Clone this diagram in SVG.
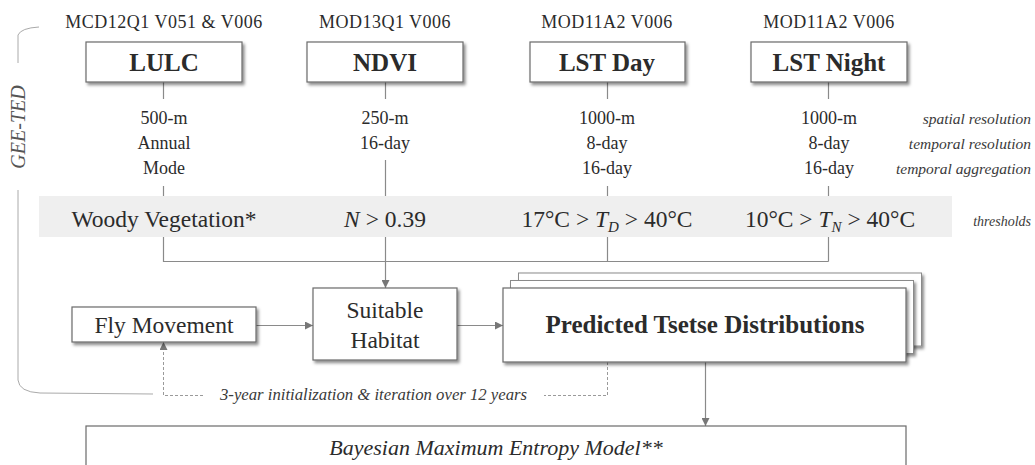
<svg xmlns="http://www.w3.org/2000/svg" width="1035" height="465" viewBox="0 0 1035 465" font-family="'Liberation Serif', 'Times New Roman', 'DejaVu Serif', serif">
<style>
text{font-family:'Liberation Serif','Times New Roman','DejaVu Serif',serif;fill:#2b2b2b}
.src{font-size:18px;letter-spacing:0.5px;text-anchor:middle}
.ttl{font-size:25px;font-weight:bold;text-anchor:middle}
.spec{font-size:18px;text-anchor:middle}
.lab{font-size:15.5px;font-style:italic;text-anchor:end;fill:#3a3a3a}
.thr{font-size:23.5px;text-anchor:middle}
.reg{font-size:23.5px;text-anchor:middle}
.box{fill:#fff;stroke:#6a6a6a;stroke-width:1.2}
.sbox{fill:#fff;stroke:#8a8a8a;stroke-width:1}
.ln{fill:none;stroke:#8a8a8a;stroke-width:1.2}
.dash{fill:none;stroke:#9a9a9a;stroke-width:1;stroke-dasharray:3 2}
.brk{fill:none;stroke:#aaaaaa;stroke-width:1}
</style>
<defs>
<filter id="sh" x="-10%" y="-20%" width="125%" height="150%">
<feDropShadow dx="2" dy="2.5" stdDeviation="1.6" flood-color="#000" flood-opacity="0.45"/>
</filter>
<marker id="ah" viewBox="0 0 10 10" refX="10" refY="5" markerWidth="9" markerHeight="8" markerUnits="userSpaceOnUse" orient="auto">
<path d="M0,0 L10,5 L0,10 z" fill="#777"/>
</marker>
</defs>
<rect width="1035" height="465" fill="#fff"/>

<g id="gee-ted">
<path class="brk" d="M39,27 Q21,28 18,35 V63"/>
<path class="brk" d="M18,190 V380 Q19,392 40,393 L153,394"/>
<text transform="translate(25,127) rotate(-90)" style="font-size:20px;font-style:italic;text-anchor:middle;fill:#555">GEE-TED</text>
</g>

<g id="threshold-band">
<rect x="39" y="196" width="913" height="41" fill="#efefef"/>
</g>

<g id="connectors">
<path class="ln" d="M163.5,82 V99 M163.5,186 V196 M163.5,237 V261.5 H828.5"/>
<path class="ln" d="M385.5,82 V99 M385.5,160 V196"/>
<path class="ln" d="M385.5,237 V288" marker-end="url(#ah)"/>
<path class="ln" d="M607.5,82 V99 M607.5,186 V196 M607.5,237 V261.5"/>
<path class="ln" d="M828.5,82 V99 M828.5,186 V196 M828.5,237 V261.5"/>
<path class="ln" d="M256,325.5 H313" marker-end="url(#ah)"/>
<path class="ln" d="M457,325.5 H503" marker-end="url(#ah)"/>
<path class="ln" d="M705.5,362 V426" marker-end="url(#ah)"/>
<path class="dash" d="M607.5,362 V395.5 H544"/>
<path class="dash" d="M203,395.5 H163.5 V342" marker-end="url(#ah)"/>
</g>

<g id="lulc">
<text class="src" x="164" y="28">MCD12Q1 V051 &amp; V006</text>
<rect class="box" x="86" y="42" width="156" height="40" filter="url(#sh)"/>
<text class="ttl" x="164" y="71">LULC</text>
<text class="spec" x="164" y="124">500-m</text>
<text class="spec" x="164" y="149">Annual</text>
<text class="spec" x="164" y="174">Mode</text>
<text class="thr" x="164" y="227">Woody Vegetation*</text>
</g>

<g id="ndvi">
<text class="src" x="385" y="28">MOD13Q1 V006</text>
<rect class="box" x="307" y="42" width="156" height="40" filter="url(#sh)"/>
<text class="ttl" x="385" y="71">NDVI</text>
<text class="spec" x="385" y="124">250-m</text>
<text class="spec" x="385" y="149">16-day</text>
<text class="thr" x="385" y="227"><tspan font-style="italic">N</tspan> &gt; 0.39</text>
</g>

<g id="lst-day">
<text class="src" x="607" y="28">MOD11A2 V006</text>
<rect class="box" x="530" y="42" width="155" height="40" filter="url(#sh)"/>
<text class="ttl" x="607" y="71">LST Day</text>
<text class="spec" x="607" y="124">1000-m</text>
<text class="spec" x="607" y="149">8-day</text>
<text class="spec" x="607" y="174">16-day</text>
<text class="thr" x="607" y="227">17°C &gt; <tspan font-style="italic">T</tspan><tspan font-style="italic" font-size="15" dy="5">D</tspan><tspan dy="-5"> &gt; 40°C</tspan></text>
</g>

<g id="lst-night">
<text class="src" x="829" y="28">MOD11A2 V006</text>
<rect class="box" x="751" y="42" width="156" height="40" filter="url(#sh)"/>
<text class="ttl" x="829" y="71">LST Night</text>
<text class="spec" x="829" y="124">1000-m</text>
<text class="spec" x="829" y="149">8-day</text>
<text class="spec" x="829" y="174">16-day</text>
<text class="thr" x="830" y="227">10°C &gt; <tspan font-style="italic">T</tspan><tspan font-style="italic" font-size="15" dy="5">N</tspan><tspan dy="-5"> &gt; 40°C</tspan></text>
</g>

<g id="row-labels">
<text class="lab" x="1031" y="124">spatial resolution</text>
<text class="lab" x="1031" y="149">temporal resolution</text>
<text class="lab" x="1031" y="174">temporal aggregation</text>
<text class="lab" x="1031" y="226" style="font-size:14px">thresholds</text>
</g>

<g id="fly-movement">
<rect class="box" x="72" y="307" width="184" height="35" filter="url(#sh)"/>
<text class="reg" x="164" y="333">Fly Movement</text>
</g>

<g id="suitable-habitat">
<rect class="box" x="313" y="288" width="144" height="72" filter="url(#sh)"/>
<text class="reg" x="385" y="318">Suitable</text>
<text class="reg" x="385" y="348">Habitat</text>
</g>

<g id="predicted">
<rect class="sbox" x="518.5" y="273" width="403" height="73" filter="url(#sh)"/>
<rect class="sbox" x="510.5" y="280.5" width="403" height="73" filter="url(#sh)"/>
<rect class="box" x="503" y="288" width="403" height="74" filter="url(#sh)"/>
<text class="ttl" x="705" y="333">Predicted Tsetse Distributions</text>
</g>

<g id="iteration-label">
<text x="373.5" y="400" textLength="307" lengthAdjust="spacingAndGlyphs" style="font-size:16px;font-style:italic;text-anchor:middle;fill:#3a3a3a">3-year initialization &amp; iteration over 12 years</text>
</g>

<g id="bme">
<rect class="box" x="86" y="426" width="820" height="60"/>
<text x="496" y="455" style="font-size:22px;font-style:italic;text-anchor:middle">Bayesian Maximum Entropy Model**</text>
</g>
</svg>
